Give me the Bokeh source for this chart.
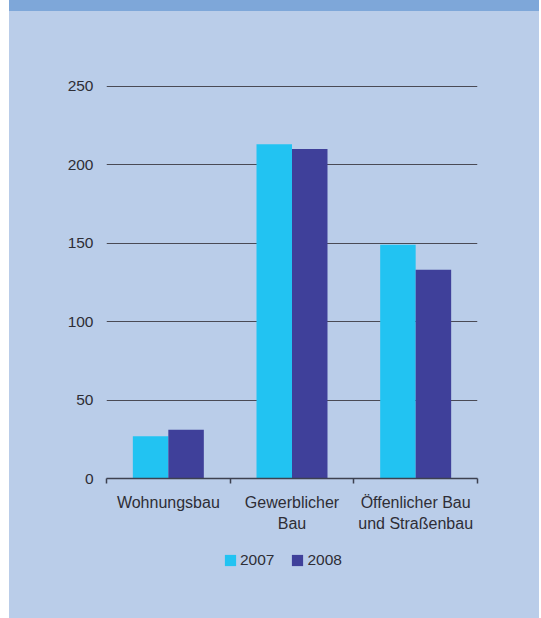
import numpy as np
from bokeh.plotting import figure
from bokeh.models import ColumnDataSource, Range1d, FixedTicker, Div, Legend, LegendItem
from bokeh.layouts import column
from bokeh.transform import dodge
from bokeh.embed import file_html
from bokeh.resources import INLINE

# ---- data ----
categories = ["Wohnungsbau", "Gewerblicher\nBau", "Öffenlicher Bau\nund Straßenbau"]
series_names = ["2007", "2008"]
v2007 = [27, 213, 149]
v2008 = [31, 210, 133]
y_ticks = [0, 50, 100, 150, 200, 250]

# ---- style ----
PANEL = "#bacde9"
BAND = "#7ea7d9"
C2007 = "#22c3f2"
C2008 = "#3f409a"
TXT = "#2e2e36"
FONT = "Liberation Sans"

x_centers = list(np.arange(len(categories)) + 0.5)
src = ColumnDataSource(dict(x=x_centers, v2007=v2007, v2008=v2008))

p = figure(width=527, height=529, output_backend="svg", toolbar_location=None,
           x_range=Range1d(0, len(categories)), y_range=Range1d(0, 260),
           min_border_left=97, min_border_right=59, min_border_top=59,
           min_border_bottom=62, margin=0)
p.background_fill_color = None
p.border_fill_color = None
p.outline_line_color = None

bw = 0.287
p.vbar(x=dodge("x", -bw / 2), top="v2007", width=bw, source=src,
       fill_color=C2007, line_color=None)
p.vbar(x=dodge("x", bw / 2), top="v2008", width=bw, source=src,
       fill_color=C2008, line_color=None)

# y axis
p.yaxis.ticker = FixedTicker(ticks=y_ticks)
p.yaxis.axis_line_color = None
p.yaxis.major_tick_line_color = None
p.yaxis.minor_tick_line_color = None
p.yaxis.major_tick_in = 0
p.yaxis.major_tick_out = 0
p.yaxis.major_label_standoff = 13
p.yaxis.major_label_text_font = FONT
p.yaxis.major_label_text_font_size = "15.5px"
p.yaxis.major_label_text_color = TXT

p.ygrid.ticker = FixedTicker(ticks=y_ticks)
p.ygrid.grid_line_color = "#4a4a55"
p.ygrid.grid_line_width = 1
p.xgrid.grid_line_color = None

# x axis
p.xaxis.ticker = FixedTicker(ticks=x_centers,
                             minor_ticks=list(range(len(categories) + 1)))
p.xaxis.major_label_overrides = {x: c for x, c in zip(x_centers, categories)}
p.xaxis.axis_line_color = "#3d4150"
p.xaxis.axis_line_width = 1.5
p.xaxis.major_tick_line_color = None
p.xaxis.major_tick_in = 0
p.xaxis.major_tick_out = 0
p.xaxis.minor_tick_line_color = "#3d4150"
p.xaxis.minor_tick_line_width = 1.5
p.xaxis.minor_tick_in = 0
p.xaxis.minor_tick_out = 5
p.xaxis.major_label_standoff = 10
p.xaxis.major_label_text_font = FONT
p.xaxis.major_label_text_font_size = "16px"
p.xaxis.major_label_text_color = TXT
p.xaxis.major_label_text_line_height = 1.25

# legend strip below the chart (zero-width proxy glyphs, only the legend shows)
q = figure(width=527, height=78, output_backend="svg", toolbar_location=None,
           x_range=Range1d(0, len(categories)), y_range=Range1d(-10, -1),
           x_axis_type=None, y_axis_type=None, min_border=0, margin=0)
q.background_fill_color = None
q.border_fill_color = None
q.outline_line_color = None
q.grid.grid_line_color = None
l1 = q.vbar(x="x", top="v2007", width=0, source=src,
            fill_color=C2007, line_color=None)
l2 = q.vbar(x="x", top="v2008", width=0, source=src,
            fill_color=C2008, line_color=None)
lg = Legend(items=[LegendItem(label=series_names[0], renderers=[l1]),
                   LegendItem(label=series_names[1], renderers=[l2])],
            orientation="horizontal", location=(117, 49),
            background_fill_alpha=0, border_line_color=None,
            padding=0, margin=0, spacing=16,
            glyph_width=14, glyph_height=14, label_height=14,
            label_standoff=3, label_text_font=FONT,
            label_text_font_size="15.5px", label_text_color=TXT)
q.add_layout(lg, "center")

band = Div(width=530, height=11, margin=0,
           styles={"background-color": BAND})
layout = column(band, p, q, spacing=0, margin=(0, 0, 0, 9),
                styles={"background-color": PANEL})

open("out.html", "w").write(file_html(layout, INLINE))
